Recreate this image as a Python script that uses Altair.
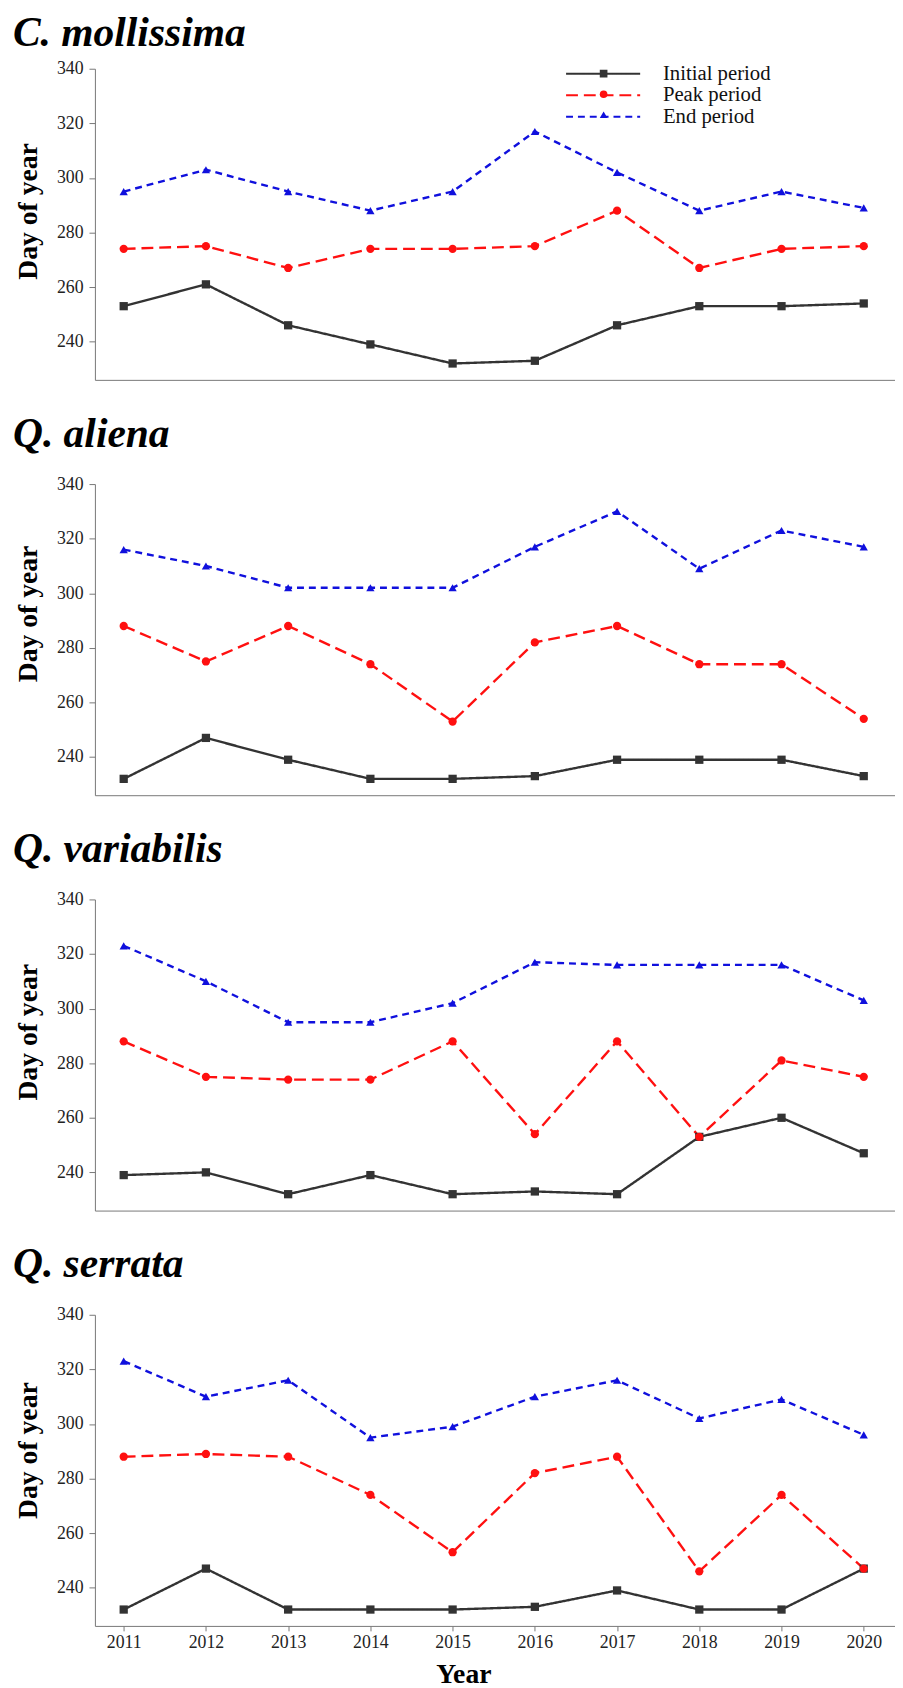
import altair as alt
import pandas as pd

years = [2011, 2012, 2013, 2014, 2015, 2016, 2017, 2018, 2019, 2020]
series_names = ["Initial period", "Peak period", "End period"]
species_names = ["C. mollissima", "Q. aliena", "Q. variabilis", "Q. serrata"]
y_ticks = [240, 260, 280, 300, 320, 340]

c_mollissima_initial = [253, 261, 246, 239, 232, 233, 246, 253, 253, 254]
c_mollissima_peak = [274, 275, 267, 274, 274, 275, 288, 267, 274, 275]
c_mollissima_end = [295, 303, 295, 288, 295, 317, 302, 288, 295, 289]

q_aliena_initial = [232, 247, 239, 232, 232, 233, 239, 239, 239, 233]
q_aliena_peak = [288, 275, 288, 274, 253, 282, 288, 274, 274, 254]
q_aliena_end = [316, 310, 302, 302, 302, 317, 330, 309, 323, 317]

q_variabilis_initial = [239, 240, 232, 239, 232, 233, 232, 253, 260, 247]
q_variabilis_peak = [288, 275, 274, 274, 288, 254, 288, 253, 281, 275]
q_variabilis_end = [323, 310, 295, 295, 302, 317, 316, 316, 316, 303]

q_serrata_initial = [232, 247, 232, 232, 232, 233, 239, 232, 232, 247]
q_serrata_peak = [288, 289, 288, 274, 253, 282, 288, 246, 274, 247]
q_serrata_end = [323, 310, 316, 295, 299, 310, 316, 302, 309, 296]

species_series = {
    "C. mollissima": [c_mollissima_initial, c_mollissima_peak, c_mollissima_end],
    "Q. aliena": [q_aliena_initial, q_aliena_peak, q_aliena_end],
    "Q. variabilis": [q_variabilis_initial, q_variabilis_peak, q_variabilis_end],
    "Q. serrata": [q_serrata_initial, q_serrata_peak, q_serrata_end],
}

SERIF = "Liberation Serif"
COLORS = ["#333333", "#ff1010", "#1010dd"]
DASHES = [[1, 0], [12, 6], [7, 5]]
SHAPES = ["square", "circle", "triangle-up"]

title_offsets = [5, 20, 20, 20]
ytitle_y = [144, 131, 134, 137]


def frame(name):
    rows = []
    for s, vals in zip(series_names, species_series[name]):
        for yr, v in zip(years, vals):
            rows.append({"year": yr, "day": v, "series": s})
    return pd.DataFrame(rows)


def panel(i, name):
    first = i == 0
    last = i == len(species_names) - 1
    df = frame(name)

    if last:
        xaxis = alt.Axis(values=years, format="d", title="Year", labelFont=SERIF,
                         labelFontSize=18, labelColor="#222", tickSize=5, tickColor="#777",
                         domainColor="#777", labelPadding=3, grid=False,
                         titleFont=SERIF, titleFontSize=28, titleFontWeight="bold",
                         titleColor="black", titlePadding=9, titleX=373)
    else:
        xaxis = alt.Axis(values=years, labels=False, ticks=False, title=None,
                         domainColor="#777", grid=False)
    x = alt.X("year:Q", scale=alt.Scale(domain=[2010.65, 2020.38], nice=False, zero=False),
              axis=xaxis)
    y = alt.Y("day:Q", scale=alt.Scale(domain=[226, 340], nice=False, zero=False),
              axis=alt.Axis(values=y_ticks, title="Day of year", titleFont=SERIF,
                            titleFontSize=28, titleFontWeight="bold", titleColor="black",
                            titleX=-53, titleY=ytitle_y[i], labelFont=SERIF, labelFontSize=18,
                            labelColor="#222", tickSize=6, tickColor="#777", domainColor="#777",
                            labelPadding=6, grid=False))

    color_scale = alt.Scale(domain=series_names, range=COLORS)
    dash_scale = alt.Scale(domain=series_names, range=DASHES)
    shape_scale = alt.Scale(domain=series_names, range=SHAPES)

    if first:
        leg_line = alt.Legend(orient="none", legendX=476, legendY=-5, direction="vertical",
                              title=None, symbolType="stroke", symbolSize=5625,
                              symbolStrokeWidth=2, clipHeight=20, rowPadding=0.8,
                              labelFont=SERIF, labelFontSize=21, labelColor="#111",
                              labelOffset=22, padding=0, labelLimit=300)
        leg_pt = alt.Legend(orient="none", legendX=476, legendY=-5, direction="vertical",
                            title=None, symbolSize=60, clipHeight=20, rowPadding=0.8,
                            labelOpacity=0, symbolOffset=34, padding=0,
                            symbolStrokeWidth=0)
    else:
        leg_line = None
        leg_pt = None

    lines = alt.Chart(df).mark_line(strokeWidth=2.4).encode(
        x=x, y=y,
        color=alt.Color("series:N", scale=color_scale, legend=leg_line),
        strokeDash=alt.StrokeDash("series:N", scale=dash_scale, legend=leg_line),
    )
    points = alt.Chart(df).mark_point(filled=True, size=70, opacity=1).encode(
        x=x, y=y,
        color=alt.Color("series:N", scale=color_scale, legend=leg_pt),
        shape=alt.Shape("series:N", scale=shape_scale, legend=leg_pt),
    )
    return alt.layer(lines, points).resolve_scale(
        color="independent", strokeDash="independent", shape="independent"
    ).properties(
        width=810, height=315,
        title=alt.TitleParams(text=name, anchor="start", frame="bounds",
                              offset=title_offsets[i], font=SERIF, fontSize=42,
                              fontStyle="italic", fontWeight="bold", color="black", dx=-2),
    )


chart = alt.vconcat(*[panel(i, n) for i, n in enumerate(species_names)], spacing=33.5).properties(
    padding={"left": 4, "top": -6, "right": 0, "bottom": 0}
).configure(background="white").configure_view(stroke=None)

chart.save("out.html", embed_options={"renderer": "svg", "actions": False})
